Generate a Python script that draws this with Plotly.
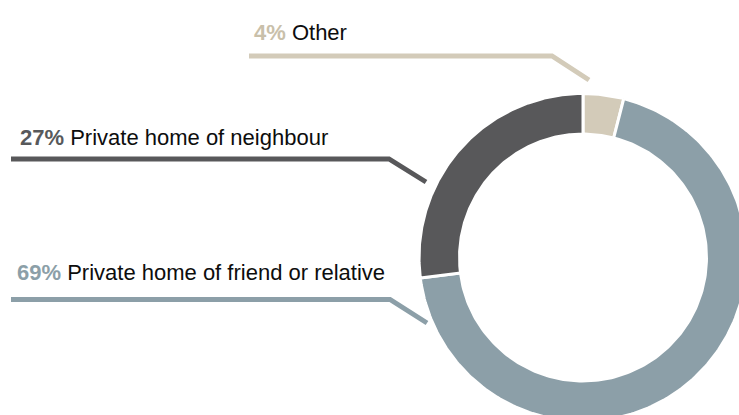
import numpy as np
import plotly.graph_objects as go

# Where people stayed - share of respondents (%)
categories = ["Other", "Private home of friend or relative", "Private home of neighbour"]
shares = [4, 69, 27]
slice_colors = ["#d3cbb9", "#8c9fa8", "#58585a"]
pct_colors = ["#c9c0aa", "#8c9fa8", "#58595b"]

W, H = 739, 415
CX, CY = 583, 257.5          # ring centre (axis units = px)
R_OUT, R_IN = 164, 123.5     # ring radii incl. white separator stroke

# label placement: (text x, text y, leader polyline)
label_layout = {
    "Other": dict(x=252, y=32, path=[(249, 56), (552, 56), (589, 80)]),
    "Private home of neighbour": dict(x=18, y=137.5, path=[(11, 159), (389, 159), (426, 182)]),
    "Private home of friend or relative": dict(x=15, y=272.5, path=[(11, 299.5), (390, 299.5), (427, 323)]),
}

FONT = "Liberation Sans, Arial, Helvetica, sans-serif"

fig = go.Figure()

# donut slices, clockwise from 12 o'clock
cum = np.concatenate([[0], np.cumsum(shares)]) / sum(shares) * 2 * np.pi
for name, a0, a1, col in zip(categories, cum[:-1], cum[1:], slice_colors):
    t = np.linspace(a0, a1, 200)
    xs = np.concatenate([CX + R_OUT * np.sin(t), CX + R_IN * np.sin(t[::-1])])
    ys = np.concatenate([CY - R_OUT * np.cos(t), CY - R_IN * np.cos(t[::-1])])
    fig.add_trace(go.Scatter(
        x=np.append(xs, xs[0]), y=np.append(ys, ys[0]),
        mode="lines", fill="toself", fillcolor=col,
        line=dict(color="white", width=3),
        name=name, hoverinfo="skip", showlegend=False,
    ))

shapes, annotations = [], []
for name, val, col, pcol in zip(categories, shares, slice_colors, pct_colors):
    lay = label_layout[name]
    pts = lay["path"]
    path = "M " + " L ".join(f"{px},{py}" for px, py in pts)
    shapes.append(dict(type="path", path=path, xref="x", yref="y",
                       line=dict(color=col, width=5)))
    annotations.append(dict(
        x=lay["x"], y=lay["y"], xref="x", yref="y",
        xanchor="left", yanchor="middle", showarrow=False,
        text=f"<b><span style='color:{pcol}'>{val}%</span></b> {name}",
        font=dict(family=FONT, size=22, color="#0d0d0d"),
    ))

fig.update_layout(
    width=W, height=H,
    margin=dict(l=0, r=0, t=0, b=0),
    paper_bgcolor="white", plot_bgcolor="white",
    xaxis=dict(range=[0, W], visible=False, fixedrange=True),
    yaxis=dict(range=[H, 0], visible=False, fixedrange=True),
    shapes=shapes, annotations=annotations,
    showlegend=False,
)

fig.write_html("out.html")
